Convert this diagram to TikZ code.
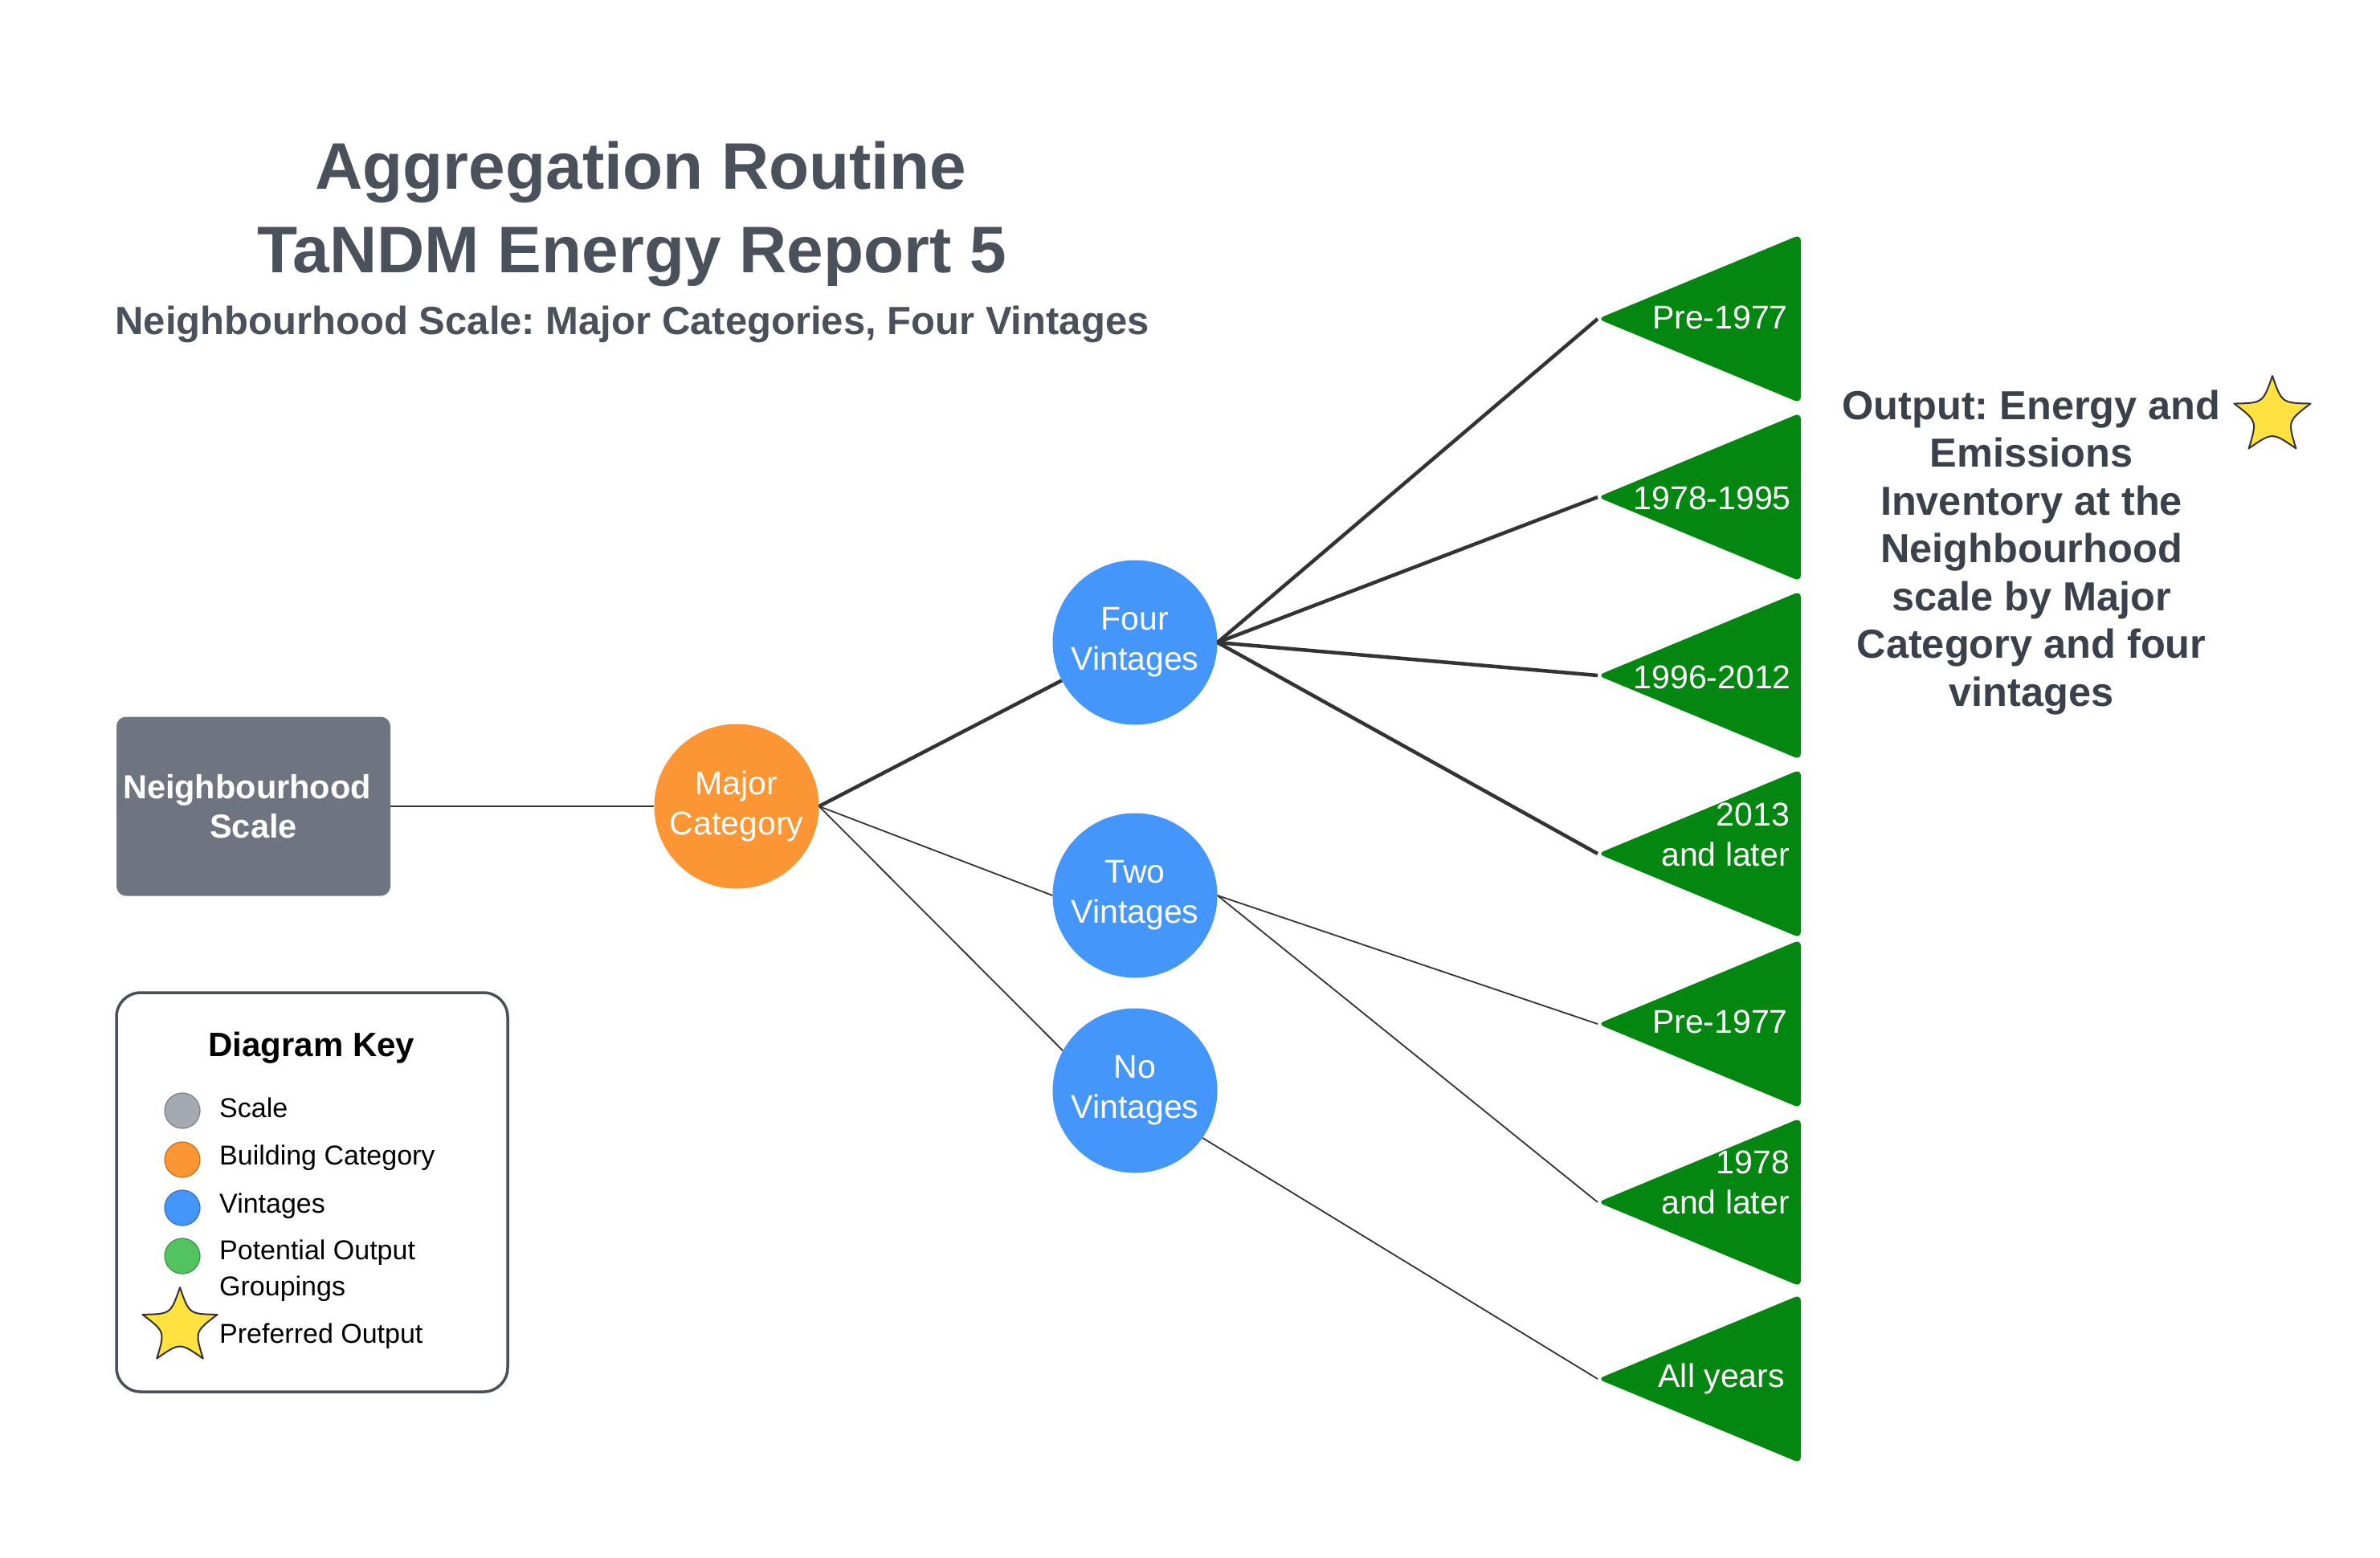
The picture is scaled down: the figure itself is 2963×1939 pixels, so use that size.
\documentclass[tikz,border=0pt]{standalone}
\usepackage{fontspec}
\setmainfont{Liberation Sans}
\frenchspacing
\definecolor{titlec}{RGB}{75,81,91}
\definecolor{outc}{RGB}{58,65,75}
\definecolor{nbgray}{RGB}{111,117,128}
\definecolor{orangec}{RGB}{252,150,52}
\definecolor{bluec}{RGB}{69,150,251}
\definecolor{greentri}{RGB}{4,135,17}
\definecolor{linec}{RGB}{51,51,51}
\definecolor{keygray}{RGB}{164,169,178}
\definecolor{keygreen}{RGB}{83,194,96}
\definecolor{stary}{RGB}{255,226,64}
\definecolor{keyborder}{RGB}{75,80,88}
\newcommand{\myfs}[2]{\fontsize{#1}{#2}\selectfont}
\begin{document}
\begin{tikzpicture}[x=1pt,y=-1pt,
  thinln/.style={draw=linec, line width=1.8pt},
  thickln/.style={draw=linec, line width=4.5pt},
  circ/.style={circle, minimum size=205pt, inner sep=0pt, text=white, align=center, font=\myfs{41}{50}},
  tri/.style={fill=greentri, rounded corners=8pt},
  tritext/.style={text=white, font=\myfs{41}{50}, align=right, anchor=east, inner sep=0pt},
  nbbox/.style={rectangle, rounded corners=12pt, fill=nbgray, minimum width=341pt, minimum height=223pt, text=white, align=center, font=\bfseries\myfs{41.5}{49}, inner sep=0pt},
  keybox/.style={rectangle, rounded corners=30pt, draw=keyborder, line width=3.5pt, minimum width=487pt, minimum height=497pt, inner sep=0pt},
  keydot/.style={circle, minimum size=44pt, inner sep=0pt, line width=1.2pt},
  keylabel/.style={anchor=base west, inner sep=0pt, font=\myfs{34}{45}, text=black},
  starst/.style={fill=stary, draw=linec, line width=2pt, line join=round}]
\useasboundingbox (0,0) rectangle (2963,1939);

% titles
\node[font=\bfseries\myfs{82}{104}, text=titlec, align=center, inner sep=0pt] (title) at (787,266) {\hspace*{22pt}Aggregation Routine\\TaNDM Energy Report 5};
\node[font=\bfseries\myfs{49}{58}, text=titlec, anchor=base, inner sep=0pt] (sub) at (787,416) {Neighbourhood Scale: Major Categories, Four Vintages};

% output triangles
\foreach \n/\cy in {t1/397, t2/619, t3/841, t4/1063, t5/1275, t6/1497, t7/1717} {
  \fill[tri] (2242,\cy-105) -- (1989,\cy) -- (2242,\cy+105) -- cycle;
  \coordinate (\n) at (1989,\cy);
}
\node[tritext] (l1) at (2226,395) {Pre-1977};
\node[tritext] (l2) at (2230,620) {1978-1995};
\node[tritext] (l3) at (2230,843) {1996-2012};
\node[tritext] (l4) at (2228,1039) {2013\\and later};
\node[tritext] (l5) at (2226,1272) {Pre-1977};
\node[tritext] (l6) at (2228,1472) {1978\\and later};
\node[tritext] (l7) at (2222,1717) {All years};

% main nodes
\node[nbbox] (nb) at (315.5,1004) {Neighbourhood\hspace*{16pt}\\Scale};
\node[circ, fill=orangec] (major) at (917,1004) {Major\\Category};
\node[circ, fill=bluec] (four) at (1413,800) {Four\\Vintages};
\node[circ, fill=bluec] (two) at (1413,1115) {Two\\Vintages};
\node[circ, fill=bluec] (none) at (1413,1358) {No\\Vintages};

% connectors
\draw[thinln] (nb.east) -- (major.west);
\draw[thickln] (major.east) -- (four);
\draw[thinln] (major.east) -- (two.west);
\draw[thinln] (major.east) -- (none.151);
\draw[thickln] (four.east) -- (t1);
\draw[thickln] (four.east) -- (t2);
\draw[thickln] (four.east) -- (t3);
\draw[thickln] (four.east) -- (t4);
\draw[thinln] (two.east) -- (t5);
\draw[thinln] (two.east) -- (t6);
\draw[thinln] (none.-35) -- (t7);

% output text and star
\node[font=\bfseries\myfs{50.5}{59.5}, text=outc, align=center, inner sep=0pt] (out) at (2529,688) {Output: Energy and\\Emissions\\Inventory at the\\Neighbourhood\\scale by Major\\Category and four\\vintages};
\begin{scope}[shift={(2829,518)}]
  \draw[starst] (-90:50) \foreach \a in {-18,54,126,198,270} { .. controls ({\a-36}:20) .. (\a:50) } -- cycle;
\end{scope}

% key
\node[keybox] (key) at (388.5,1484.5) {};
\node[font=\bfseries\myfs{42}{48}, text=black, anchor=base, inner sep=0pt] (keytitle) at (388,1315) {Diagram Key};
\node[keydot, fill=keygray, draw=keygray!75!black] (k1) at (227,1383) {};
\node[keydot, fill=orangec, draw=orangec!75!black] (k2) at (227,1444) {};
\node[keydot, fill=bluec, draw=bluec!75!black] (k3) at (227,1504) {};
\node[keydot, fill=keygreen, draw=keygreen!75!black] (k4) at (227,1564) {};
\node[keylabel] (kl1) at (273,1391) {Scale};
\node[keylabel] (kl2) at (273,1450) {Building Category};
\node[keylabel] (kl3) at (273,1510) {Vintages};
\node[keylabel, anchor=west, align=left] (kl4) at (273,1582) {Potential Output\\Groupings};
\node[keylabel] (kl5) at (273,1672) {Preferred Output};
\begin{scope}[shift={(224,1652)}]
  \draw[starst] (-90:49) \foreach \a in {-18,54,126,198,270} { .. controls ({\a-36}:19.5) .. (\a:49) } -- cycle;
\end{scope}
\end{tikzpicture}
\end{document}
